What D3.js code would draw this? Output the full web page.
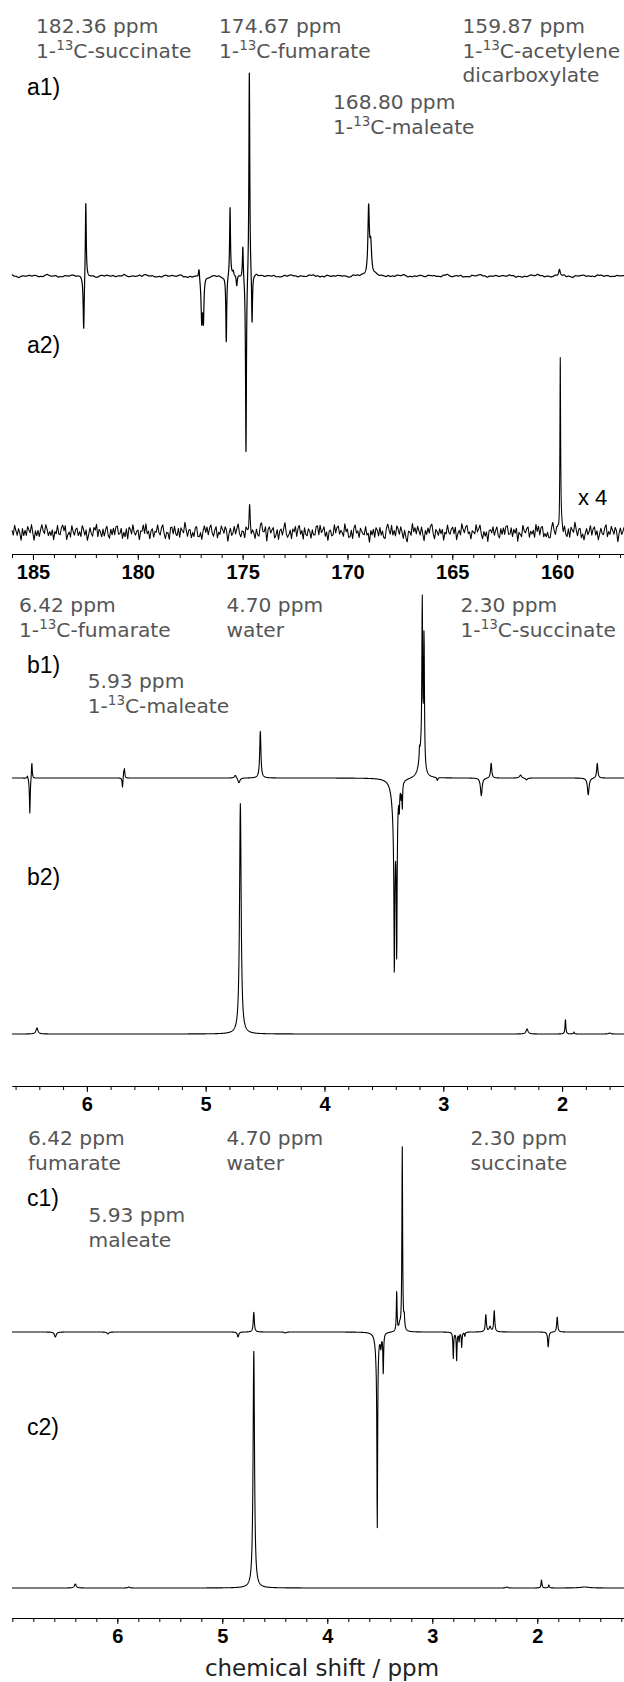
<!DOCTYPE html>
<html><head><meta charset="utf-8">
<script src="https://cdn.jsdelivr.net/npm/d3@7"></script>
<style>body{margin:0;background:#fff}svg{display:block}</style>
</head><body>
<script>
// ---------- DATA (peak tables: [ppm, intensity (a.u.), half-width (ppm)]) ----------
const a1Peaks = [
  [182.58,-56,0.03],[182.48,77,0.025],
  [177.08,11,0.03],[176.95,-45,0.04],[176.87,-40,0.03],
  [175.78,-67,0.025],[175.60,70,0.025],[175.45,4,0.03],[175.28,-11,0.03],
  [174.99,33,0.025],[174.84,-180,0.025],[174.68,209,0.025],[174.55,-52,0.025],
  [168.99,66,0.04],[168.89,30,0.05],
  [159.89,6,0.04]
];
const a2Peaks = [[174.67,24,0.03],[159.85,173,0.02]];
const b1Peaks = [
  [6.50,3,0.005],[6.48,-36,0.004],[6.463,17,0.004],
  [5.70,-10,0.004],[5.69,5,0.003],[5.684,9,0.004],
  [4.75,3,0.01],[4.72,-5,0.01],[4.54,47,0.006],
  [3.41,-50,0.02],[3.412,-143,0.004],[3.392,-150,0.004],[3.37,-20,0.003],[3.355,-12,0.003],[3.345,-25,0.003],
  [3.19,22,0.02],[3.20,10,0.003],[3.177,160,0.004],[3.162,132,0.004],
  [3.05,-3,0.005],[2.68,-18,0.008],[2.597,15,0.006],[2.35,3,0.01],[2.30,-2,0.01],
  [1.78,-17,0.008],[1.704,15,0.006]
];
const b2Peaks = [[6.42,6,0.01],[4.708,231,0.008],[2.295,5,0.01],[1.972,15,0.004],[1.90,2,0.004],[1.60,1,0.01]];
const c1Peaks = [
  [6.59,-5,0.01],[6.09,-2,0.01],[4.85,-5,0.008],[4.70,20,0.006],[4.40,-1,0.01],
  [3.53,-20,0.015],[3.524,-180,0.004],[3.49,-12,0.006],[3.467,-40,0.004],
  [3.339,40,0.004],[3.31,6,0.01],[3.286,185,0.004],[3.267,12,0.005],
  [2.80,-26,0.004],[2.768,-28,0.004],[2.745,-9,0.004],[2.72,-15,0.004],[2.69,-4,0.004],
  [2.49,17,0.006],[2.45,5,0.01],[2.41,21,0.006],
  [1.896,-15,0.006],[1.81,15,0.006]
];
const c2Peaks = [[6.40,4,0.01],[5.89,1,0.01],[4.70,238,0.008],[2.29,1,0.01],[1.96,8,0.005],[1.89,3,0.005],[1.55,1,0.05]];
const a2Noise = [
  3,-5,7,-2,-8,4,1,-6,9,-3,2,-7,5,0,-4,8,-1,-9,6,-2,
  4,-6,2,7,-3,-8,5,1,-5,3,-2,6,-7,4,-1,9,-4,-6,2,5,
  -3,7,-9,1,4,-5,8,-2,-6,3,6,-4,0,-8,5,2,-3,7,-5,1,
  8,-2,-7,4,-1,6,-9,3,2,-4,5,-6,1,7,-3,-5,9,-2,4,-8,
  2,5,-4,-1,7,-6,3,-3,6,-10,4,1,-5,8,-2,-4,3,6,-7,2,
  -1,5,-6,9,-3,2,-8,4,7,-5,1,-2,6,-4,-7,3,8,-1,-6,5,
  3,-9,4,2,-5,7,-1,-3,6,-7,5,0,-4,9,-2,-8,3,6,-5,1,
  -6,4,8,-3,-1,5,-7,2,6,-4,3,-8,1,7,-2,-5,4,9,-6,2,
  -3,6,-1,-7,5,3,-9,2,7,-4,-2,6,-5,1,8,-3,-6,4,2,-8,
  5,-1,-4,7,-6,3,1,-5,9,-2,-7,4,6,-3,-1,8,-12,3,5,-4,
  2,7,-5,-1,6,-8,3,4,-6,1,9,-3,-5,2,7,-7,4,-2,5,-9,
  1,6,-4,3,-7,8,-2,-5,4,2,-6,7,-1,-4,5,3,-8,6,-3,1,
  7,-5,2,-9,4,6,-2,-3,8,-6,1,5,-4,3,-1,-7,9,-2,4,-5,
  -2,6,-8,3,5,-4,1,-6,7,2,-3,-5,8,-1,4,-7,6,-3,2,-10,
  4,1,-6,7,-2,5,-4,-8,3,6,-1,-5,9,-3,2,-7,5,1,-4,8
];
const aMajorTicks = [185,180,175,170,165,160];
const bMajorTicks = [6,5,4,3,2];
const cMajorTicks = [6,5,4,3,2];
const aAnnot = [["182.36 ppm","1-^13C-succinate"],["174.67 ppm","1-^13C-fumarate"],["159.87 ppm","1-^13C-acetylene","dicarboxylate"],["168.80 ppm","1-^13C-maleate"]];
const bAnnot = [["6.42 ppm","1-^13C-fumarate"],["4.70 ppm","water"],["2.30 ppm","1-^13C-succinate"],["5.93 ppm","1-^13C-maleate"]];
const cAnnot = [["6.42 ppm","fumarate"],["4.70 ppm","water"],["2.30 ppm","succinate"],["5.93 ppm","maleate"]];
const traceLabels = ["a1)","a2)","b1)","b2)","c1)","c2)"];
const scaleNote = "x 4";
const xTitle = "chemical shift / ppm";

// ---------- DRAWING ----------
const W = 624, H = 1682;
const svg = d3.select("body").append("svg").attr("width", W).attr("height", H);

const xA = d3.scaleLinear().domain([186.0, 156.81]).range([12, 624]);
const xB = d3.scaleLinear().domain([6.63, 1.479]).range([12, 624]);
const xC = d3.scaleLinear().domain([7.003, 1.174]).range([12, 624]);

// noise layers: {spacing (px between noise points), offset (start index), scale}
function spectrum(peaks, x, step, layers) {
  const [d0, d1] = x.domain();
  const n = Math.round(Math.abs(d0 - d1) / step);
  const L = a2Noise.length;
  const pts = [];
  for (let i = 0; i <= n; i++) {
    const p = d0 + (d1 - d0) * i / n;
    let v = 0;
    for (const [c, h, w] of peaks) v += h * w * w / ((p - c) * (p - c) + w * w);
    (layers || []).forEach(nz => {
      const f = (x(p) - x.range()[0]) / nz.spacing + nz.offset;
      const k = Math.floor(f), t = f - k;
      v += nz.scale * (a2Noise[k % L] * (1 - t) + a2Noise[(k + 1) % L] * t);
    });
    pts.push([p, v]);
  }
  return pts;
}

function drawTrace(peaks, x, base, step, layers, sw) {
  const y = d3.scaleLinear().domain([-300, 300]).range([base + 300, base - 300]);
  const line = d3.line().x(d => x(d[0])).y(d => y(d[1]));
  svg.append("path").datum(spectrum(peaks, x, step, layers))
    .attr("d", line).attr("fill", "none").attr("stroke", "#000")
    .attr("stroke-width", sw || 1.1).attr("stroke-linejoin", "round");
}

drawTrace(a1Peaks, xA, 276, 0.005, [
  {spacing: 2.2, offset: 137, scale: 0.09},
  {spacing: 7, offset: 41, scale: 0.13}], 1.2);
drawTrace(a2Peaks, xA, 532, 0.005, [
  {spacing: 1.3, offset: 0, scale: 0.75},
  {spacing: 4.7, offset: 203, scale: 0.55}], 1.05);
drawTrace(b1Peaks, xB, 778, 0.002);
drawTrace(b2Peaks, xB, 1034, 0.002);
drawTrace(c1Peaks, xC, 1332, 0.002);
drawTrace(c2Peaks, xC, 1588, 0.002);

function drawAxis(x, yPos, minor, major) {
  const g = svg.append("g").attr("transform", `translate(0,${yPos})`);
  g.call(d3.axisBottom(x).tickValues(minor).tickSize(4).tickSizeOuter(0).tickFormat(""));
  const g2 = svg.append("g").attr("transform", `translate(0,${yPos})`);
  g2.call(d3.axisBottom(x).tickValues(major).tickSize(6).tickSizeOuter(0).tickFormat(d3.format("d")));
  [g, g2].forEach(s => {
    s.select(".domain").attr("stroke", "#000").attr("stroke-width", 1.2);
    s.selectAll(".tick line").attr("stroke", "#000").attr("stroke-width", 1);
  });
  g2.selectAll(".tick text").attr("y", 25).attr("dy", null)
    .attr("font-family", "'Liberation Sans', Arial, sans-serif")
    .attr("font-weight", "bold").attr("font-size", 20).attr("fill", "#000");
}
drawAxis(xA, 554, d3.range(157, 187), aMajorTicks);
drawAxis(xB, 1086, d3.range(8, 34).map(v => v / 5), bMajorTicks);
drawAxis(xC, 1618, d3.range(6, 36).map(v => v / 5), cMajorTicks);

function rich(sel, str) {
  const parts = str.split(/\^(\d+)/);
  let shift = 0;
  parts.forEach((p, i) => {
    if (!p) return;
    const ts = sel.append("tspan").text(p);
    if (i % 2 === 1) { ts.attr("font-size", 13.5).attr("dy", -8); shift = 8; }
    else if (shift) { ts.attr("dy", shift); shift = 0; }
  });
}
function annotate(lines, x, y) {
  lines.forEach((ln, i) => {
    const t = svg.append("text").attr("x", x).attr("y", y + i * 24.5)
      .attr("font-family", "'DejaVu Sans', sans-serif").attr("font-size", 20.2).attr("fill", "#555");
    rich(t, ln);
  });
}
const aPos = [[36, 33], [219, 33], [462.5, 33], [333, 109]];
const bPos = [[19, 612], [226.5, 612], [460.5, 612], [87.7, 688]];
const cPos = [[28, 1145], [226.5, 1145], [470.5, 1145], [88.5, 1222]];
aAnnot.forEach((l, i) => annotate(l, aPos[i][0], aPos[i][1]));
bAnnot.forEach((l, i) => annotate(l, bPos[i][0], bPos[i][1]));
cAnnot.forEach((l, i) => annotate(l, cPos[i][0], cPos[i][1]));

const tlY = [95, 353, 673, 885, 1206, 1435];
traceLabels.forEach((s, i) => {
  svg.append("text").attr("x", 27).attr("y", tlY[i])
    .attr("font-family", "'Liberation Sans', Arial, sans-serif").attr("font-size", 23).attr("fill", "#000").text(s);
});
svg.append("text").attr("x", 578).attr("y", 505)
  .attr("font-family", "'Liberation Sans', Arial, sans-serif").attr("font-size", 22).attr("fill", "#000").text(scaleNote);
svg.append("text").attr("x", 322).attr("y", 1676).attr("text-anchor", "middle")
  .attr("font-family", "'DejaVu Sans', sans-serif").attr("font-size", 23).attr("fill", "#222").text(xTitle);
</script>
</body></html>
